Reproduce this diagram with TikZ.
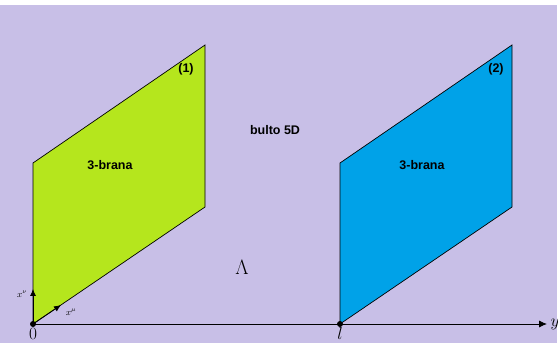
\documentclass[tikz,border=0pt]{standalone}
\usepackage{amsmath}
\usepackage{fontspec}
\setmainfont{Liberation Sans}
\usetikzlibrary{arrows.meta, positioning}
\definecolor{lavender}{HTML}{C8BFE7}
\definecolor{branegreen}{HTML}{B5E61D}
\definecolor{braneblue}{HTML}{00A2E8}

\begin{document}
\begin{tikzpicture}[x=1pt, y=1pt, font=\bfseries\fontsize{12.5}{14}\selectfont,
		brane/.style={draw=black, line width=0.7pt},
		axis/.style={-{Latex[length=8pt, width=7pt]}, line width=0.8pt},
		vec/.style={-{Latex[length=7pt, width=6pt]}, line width=0.8pt},
		axlabel/.style={font=\fontsize{16}{18}\selectfont},
		small/.style={font=\fontsize{9}{10}\selectfont}]
	\useasboundingbox (0,0) rectangle (558,343);
	\fill[lavender] (0,0) rectangle (557,338);
	% branas
	\coordinate (o) at (33,19);
	\coordinate (l) at (340,19);
	\coordinate (yend) at (547,19);
	\fill[branegreen, brane] (o) -- (33,180) -- (205,298) -- (205,136) -- cycle;
	\fill[braneblue, brane] (l) -- (340,180) -- (512,298) -- (512,136) -- cycle;
	\node (brana1) at (110,178) {3-brana};
	\node (brana2) at (422,178) {3-brana};
	\node (num1) at (186,274) {(1)};
	\node (num2) at (496,274) {(2)};
	\node (bulto) at (275,213) {bulto 5D};
	\node[font=\fontsize{22}{24}\selectfont] (lambda) at (242,76) {$\Lambda$};
	% eje y
	\draw[axis] (o) -- (yend);
	\node[axlabel, anchor=west] (ylab) at (yend) {$y$};
	\coordinate (xnu) at (33,54);
	\coordinate (xmu) at (61,38);
	\draw[vec] (o) -- (xnu);
	\draw[vec] (o) -- (xmu);
	\node[small] (xnulab) at (22,49) {$x^\nu$};
	\node[small] (xmulab) at (71,31) {$x^\mu$};
	\fill (o) circle (3pt);
	\fill (l) circle (3pt);
	\node[axlabel, anchor=south] (zero) at (33,0) {$0$};
	\node[axlabel, anchor=south] (llab) at (340,0) {$l$};
\end{tikzpicture}
\end{document}
